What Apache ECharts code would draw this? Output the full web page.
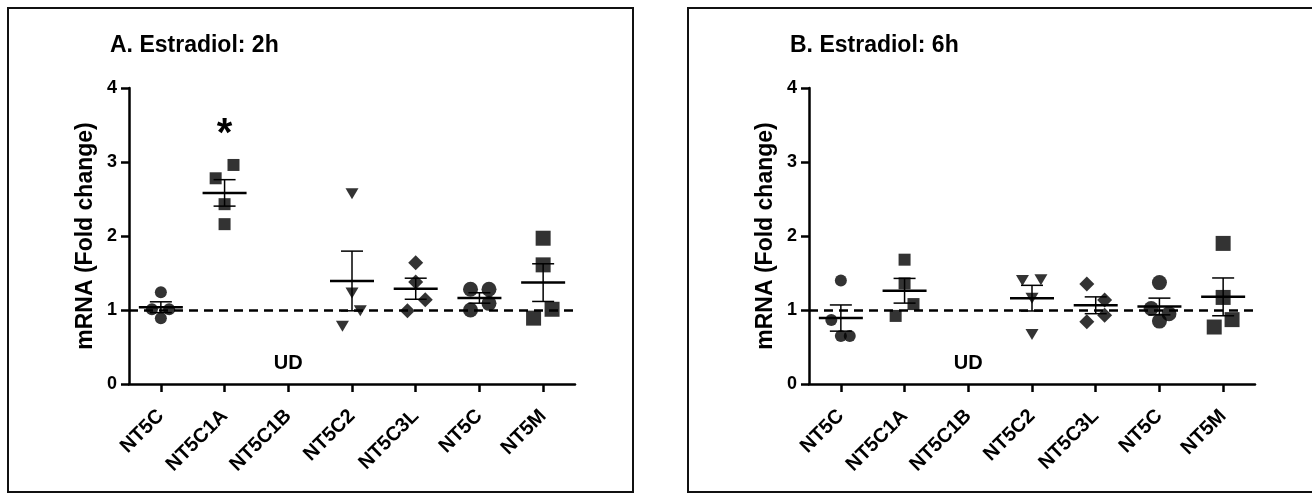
<!DOCTYPE html>
<html>
<head>
<meta charset="utf-8">
<script src="https://cdn.jsdelivr.net/npm/echarts@6/dist/echarts.min.js"></script>
<style>
html, body { margin: 0; padding: 0; background: #fff; }
#chart { width: 1312px; height: 494px; }
</style>
</head>
<body>
<div id="chart"></div>
<script>
var categories = ['NT5C', 'NT5C1A', 'NT5C1B', 'NT5C2', 'NT5C3L', 'NT5C', 'NT5M'];
var yTicks = [0, 1, 2, 3, 4];

// fold change per sample, one list per gene (NT5C1B undetectable -> empty)
var values2h = [
    [1.24, 1.01, 1.01, 0.89],
    [2.96, 2.78, 2.43, 2.16],
    [],
    [2.57, 1.23, 0.99, 0.78],
    [1.64, 1.38, 1.14, 0.99],
    [1.28, 1.28, 1.00, 1.09],
    [1.97, 1.61, 1.01, 0.89]
];
var values6h = [
    [1.40, 0.865, 0.65, 0.65],
    [1.68, 1.36, 1.08, 0.92],
    [],
    [1.40, 1.41, 1.16, 0.67],
    [1.35, 1.135, 0.93, 0.84],
    [1.37, 1.02, 0.95, 0.85],
    [1.90, 1.17, 0.87, 0.77]
];
// sideways spread of overlapping points, in category widths
var spread2h = [
    [0, -0.14, 0.13, 0],
    [0.14, -0.14, 0, 0],
    [],
    [0, 0, 0.13, -0.15],
    [0, 0, 0.15, -0.13],
    [-0.14, 0.15, -0.14, 0.15],
    [0, 0, 0.14, -0.15]
];
var spread6h = [
    [0, -0.15, 0, 0.14],
    [0, 0, 0.14, -0.14],
    [],
    [-0.15, 0.14, 0, 0],
    [-0.14, 0.14, 0.14, -0.14],
    [0, -0.13, 0.15, 0],
    [0, 0, 0.14, -0.14]
];
var baseline = 1;
var udLabel = ['UD', 2, 0.28];      // text, category, y
var sig2h = ['*', 1, 3.36];

var FONT = 'Liberation Sans, Arial, sans-serif';
var markers = [
    { symbol: 'circle', size: 12, rotate: 0 },
    { symbol: 'rect', size: 12, rotate: 0 },
    null,
    { symbol: 'triangle', size: [13, 11], rotate: 180 },
    { symbol: 'diamond', size: 15, rotate: 0 },
    { symbol: 'circle', size: 15, rotate: 0 },
    { symbol: 'rect', size: 15, rotate: 0 }
];

function mean(a) {
    var s = 0;
    a.forEach(function (v) { s += v; });
    return s / a.length;
}
function sem(a) {
    var m = mean(a), s = 0;
    a.forEach(function (v) { s += (v - m) * (v - m); });
    return Math.sqrt(s / (a.length - 1)) / Math.sqrt(a.length);
}

function renderErrorBar(params, api) {
    var x = api.value(0), m = api.value(1), e = api.value(2);
    var c = api.coord([x, m]);
    var hi = api.coord([x, m + e]);
    var lo = api.coord([x, m - e]);
    var thin = { stroke: '#000', lineWidth: 1.5 };
    return {
        type: 'group',
        children: [
            { type: 'line', shape: { x1: c[0] - 22, y1: c[1], x2: c[0] + 22, y2: c[1] }, style: { stroke: '#000', lineWidth: 2.5 } },
            { type: 'line', shape: { x1: hi[0], y1: hi[1], x2: lo[0], y2: lo[1] }, style: thin },
            { type: 'line', shape: { x1: hi[0] - 11, y1: hi[1], x2: hi[0] + 11, y2: hi[1] }, style: thin },
            { type: 'line', shape: { x1: lo[0] - 11, y1: lo[1], x2: lo[0] + 11, y2: lo[1] }, style: thin }
        ]
    };
}

// free text placed through the axes (UD, significance star)
function textSeries(item, g, size) {
    return {
        type: 'custom',
        xAxisIndex: g * 2 + 1,
        yAxisIndex: g,
        silent: true,
        data: [[item[1], item[2]]],
        renderItem: function (params, api) {
            var p = api.coord([api.value(0), api.value(1)]);
            return {
                type: 'text',
                x: p[0],
                y: p[1],
                style: {
                    text: item[0],
                    fill: '#000',
                    font: 'bold ' + size + 'px ' + FONT,
                    textAlign: 'center',
                    textVerticalAlign: 'middle'
                }
            };
        }
    };
}

function panelSeries(values, spread, g) {
    var out = [];
    var bars = [];
    values.forEach(function (vals, i) {
        if (!vals.length) return;
        var mk = markers[i];
        out.push({
            type: 'scatter',
            xAxisIndex: g * 2 + 1,
            yAxisIndex: g,
            symbol: mk.symbol,
            symbolSize: mk.size,
            symbolRotate: mk.rotate,
            itemStyle: { color: '#000' },
            data: vals.map(function (v, k) { return [i + spread[i][k], v]; })
        });
        bars.push([i, mean(vals), sem(vals)]);
    });
    out.unshift({
        type: 'custom',
        xAxisIndex: g * 2 + 1,
        yAxisIndex: g,
        renderItem: renderErrorBar,
        dimensions: ['x', 'mean', 'sem'],
        encode: { x: 0, y: 1 },
        data: bars,
        markLine: {
            silent: true,
            symbol: ['none', 'none'],
            label: { show: false },
            lineStyle: { color: '#000', width: 2.5, type: [9, 6] },
            data: [{ yAxis: baseline }]
        }
    });
    out.push(textSeries(udLabel, g, 20));
    return out;
}

var axisLine = { show: true, onZero: false, lineStyle: { color: '#000', width: 2.5 } };
var axisTick = { show: true, length: 8, lineStyle: { color: '#000', width: 2.5 } };

function catAxis(g) {
    return {
        type: 'category',
        gridIndex: g,
        data: categories,
        boundaryGap: true,
        axisLine: axisLine,
        axisTick: { show: true, alignWithLabel: true, length: 8, lineStyle: { color: '#000', width: 2.5 } },
        axisLabel: { interval: 0, rotate: 45, margin: 29, color: '#000', fontWeight: 'bold', fontSize: 20, fontFamily: FONT },
        splitLine: { show: false }
    };
}
function hiddenAxis(g) {
    return { type: 'value', gridIndex: g, min: -0.5, max: 6.5, show: false, splitLine: { show: false } };
}
function valAxis(g) {
    return {
        type: 'value',
        gridIndex: g,
        min: yTicks[0],
        max: yTicks[yTicks.length - 1],
        interval: 1,
        name: 'mRNA (Fold change)',
        nameLocation: 'middle',
        nameRotate: 90,
        nameGap: 32,
        nameTextStyle: { color: '#000', fontWeight: 'bold', fontSize: 23, fontFamily: FONT },
        axisLine: axisLine,
        axisTick: axisTick,
        axisLabel: { margin: 12, color: '#000', fontWeight: 'bold', fontSize: 18, fontFamily: FONT },
        splitLine: { show: false }
    };
}

var series = panelSeries(values2h, spread2h, 0)
    .concat(panelSeries(values6h, spread6h, 1));
series.push(textSeries(sig2h, 0, 40));

var chart = echarts.init(document.getElementById('chart'));
chart.setOption({
    animation: false,
    backgroundColor: '#fff',
    title: [
        { text: 'A. Estradiol: 2h', left: 110, top: 34, padding: 0,
          textStyle: { color: '#000', fontWeight: 'bold', fontSize: 23, fontFamily: FONT } },
        { text: 'B. Estradiol: 6h', left: 790, top: 34, padding: 0,
          textStyle: { color: '#000', fontWeight: 'bold', fontSize: 23, fontFamily: FONT } }
    ],
    graphic: [
        { type: 'rect', shape: { x: 8, y: 8, width: 625, height: 484 }, style: { fill: 'none', stroke: '#111', lineWidth: 2 } },
        { type: 'rect', shape: { x: 688, y: 8, width: 640, height: 484 }, style: { fill: 'none', stroke: '#111', lineWidth: 2 } }
    ],
    grid: [
        { left: 129, top: 88, width: 446, height: 296 },
        { left: 809, top: 88, width: 446, height: 296 }
    ],
    xAxis: [catAxis(0), hiddenAxis(0), catAxis(1), hiddenAxis(1)],
    yAxis: [valAxis(0), valAxis(1)],
    series: series
});
</script>
</body>
</html>
